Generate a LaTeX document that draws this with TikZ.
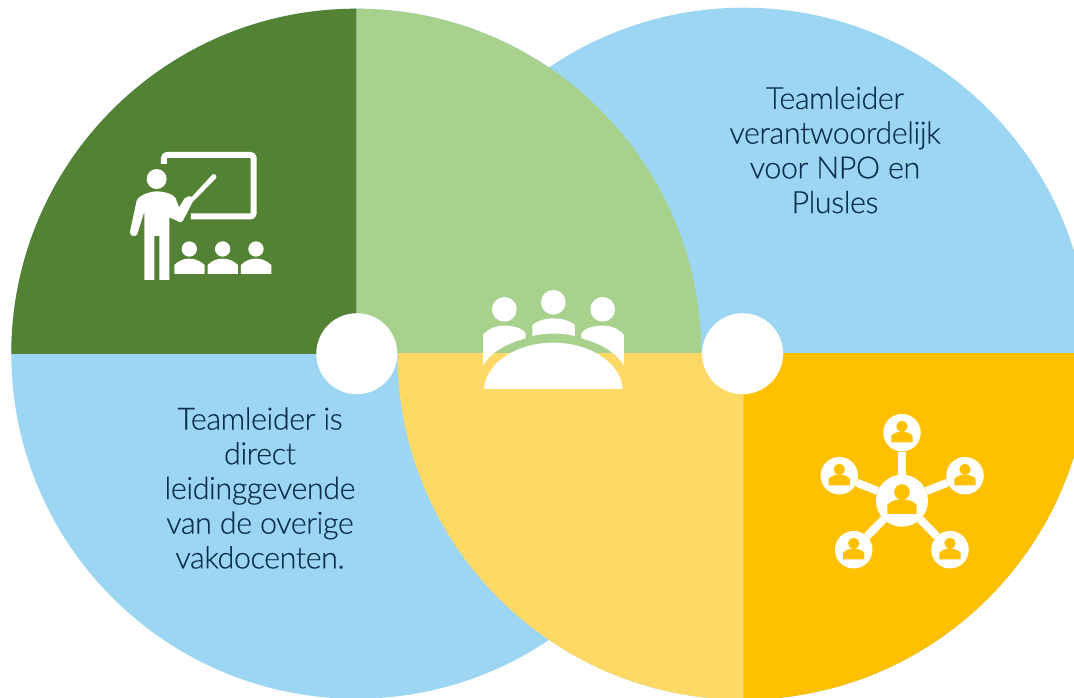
\documentclass[tikz,border=0pt]{standalone}
\usepackage{fontspec}
\setmainfont[FakeBold=0.2,LetterSpace=-1.6]{Lato Light}
\definecolor{dgreen}{HTML}{548235}
\definecolor{lgreen}{HTML}{A9D18E}
\definecolor{sky}{HTML}{9DD6F2}
\definecolor{gold}{HTML}{FFC000}
\definecolor{lgold}{HTML}{FFD966}
\definecolor{ink}{HTML}{0B2F4F}
\tikzset{
 label text/.style={text=ink,font=\fontsize{30.6}{34.7}\selectfont,align=center,inner sep=0pt},
 hub/.style={circle,fill=white,minimum size=81pt,inner sep=0pt},
 sat/.style={circle,fill=white,inner sep=0pt,minimum size=37.5pt},
 bigsat/.style={circle,fill=white,inner sep=0pt,minimum size=52pt},
 link/.style={draw=white,line width=8pt},
 zoomed/.style={x=0.3333pt,y=-0.3333pt}
}
\newcommand{\person}[2]{%
 \fill[gold,shift={(#1)},scale=#2] (0,-19) circle[radius=17]
 (-32,29) -- (-32,9) .. controls (-24,0) and (-12,-3) .. (0,-3) .. controls (12,-3) and (24,0) .. (32,9) -- (32,29) -- cycle;}
\begin{document}
\begin{tikzpicture}[x=1pt,y=-1pt]
\useasboundingbox (0,0) rectangle (1074,698);
\clip (0,0) rectangle (1074,698);
\coordinate (L) at (356.3,353.7);
\coordinate (R) at (743.5,353.7);
% right circle
\fill[sky] (R) circle (346pt);
% left circle
\fill[sky] (L) circle (345pt);
\begin{scope}
 \clip (356.3,0) rectangle (1074,353.7);
 \fill[lgreen] (L) circle (345pt);
\end{scope}
\begin{scope}
 \clip (0,0) rectangle (356.3,353.7);
 \fill[dgreen] (L) circle (345pt);
\end{scope}
\begin{scope}
 \clip (0,353.7) rectangle (743.5,698);
 \fill[lgold] (R) circle (346pt);
\end{scope}
\begin{scope}
 \clip (743.5,353.7) rectangle (1074,698);
 \fill[gold] (R) circle (346pt);
\end{scope}
\node[hub] (hubL) at (356.8,353.7) {};
\node[hub] (hubR) at (742.6,353.7) {};
\node[label text] (tR) at (835,150) {Teamleider\\verantwoordelijk\\voor NPO en\\Plusles};
\node[label text] (tL) at (260,488) {Teamleider is\\direct\\leidinggevende\\van de overige\\vakdocenten.};
% teacher icon
\begin{scope}[shift={(110,130)},zoomed]
 \draw[white,line width=6pt,line join=round,rounded corners=3pt] (162,102) -- (162,75) -- (431,75) -- (431,259) -- (243,259);
 \fill[white] (140,147) circle[radius=30];
 \fill[white] (103,450) -- (103,245) -- (82,312) .. controls (78,322) and (58,320) .. (60,305) -- (80,212) .. controls (85,198) and (115,185) .. (140,184) .. controls (165,185) and (190,192) .. (197,205) -- (207,232) -- (224,205) .. controls (230,198) and (240,198) .. (246,200) -- (307,134) .. controls (314,128) and (322,138) .. (318,145) -- (254,210) .. controls (252,212) and (250,214) .. (248,216) -- (220,270) .. controls (214,280) and (204,277) .. (200,272) -- (178,262) -- (178,450) -- (148,450) -- (148,318) -- (133,318) -- (133,450) -- cycle;
 \foreach \x in {238,338,438}{
  \fill[white] (\x,357) circle[radius=23];
  \fill[white] (\x-45,432) -- (\x-45,405) .. controls (\x-30,390) and (\x-15,386) .. (\x,386) .. controls (\x+15,386) and (\x+30,390) .. (\x+46,405) -- (\x+46,432) -- cycle;
 }
\end{scope}
% meeting icon
\begin{scope}[shift={(460,270)},zoomed]
 \foreach \x/\y in {133/118,280/97,428/118} {\fill[white] (\x,\y) circle[radius=37];}
 \fill[white] (217,198) -- (217,165) .. controls (235,150) and (260,145) .. (280,145) .. controls (300,145) and (327,150) .. (345,165) -- (345,198) .. controls (300,188) and (260,188) .. (217,198) -- cycle;
 \fill[white] (69,287) -- (69,195) .. controls (85,175) and (110,167) .. (133,167) .. controls (155,167) and (185,172) .. (197,190) -- (197,205) .. controls (140,220) and (95,245) .. (69,287) -- cycle;
 \fill[white] (492,287) -- (492,195) .. controls (476,175) and (451,167) .. (428,167) .. controls (406,167) and (376,172) .. (364,190) -- (364,205) .. controls (421,220) and (466,245) .. (492,287) -- cycle;
 \fill[white] (72,357) .. controls (80,270) and (180,218) .. (280,218) .. controls (380,218) and (480,270) .. (488,357) -- cycle;
\end{scope}
% network icon
\node[bigsat] (n0) at (902,500.7) {};
\node[sat] (n1) at (902,432.7) {};
\node[sat] (n2) at (839.3,475.7) {};
\node[sat] (n3) at (965,475.7) {};
\node[sat] (n4) at (853.7,549.7) {};
\node[sat] (n5) at (950,549.7) {};
\foreach \n in {n1,n2,n3,n4,n5} {\draw[link] (n0) -- (\n);}
\foreach \n in {n1,n2,n3,n4,n5} {\person{\n}{0.3333}}
\person{n0}{0.4583}
\end{tikzpicture}
\end{document}
